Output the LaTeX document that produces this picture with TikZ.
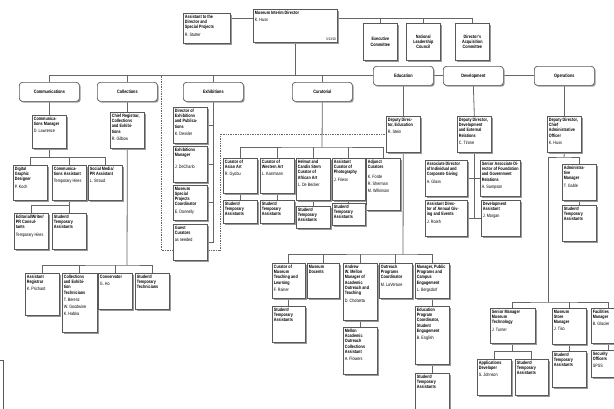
\documentclass[tikz,border=0pt]{standalone}
\usepackage{fontspec}
\setmainfont{Liberation Sans}[FakeStretch=0.8]
\usetikzlibrary{arrows.meta,shadows,backgrounds}

\newcommand{\orgunit}[6]{%
  \node[unit] (#1) at (#2)
    {\parbox[t][\dimexpr#4pt-3pt\relax][t]{\dimexpr#3pt-3pt\relax}%
      {\raggedright\textbf{#5}\par\vspace{2pt}#6}};}

\tikzset{
  boxshadow/.style={drop shadow={shadow xshift=1.3pt,shadow yshift=-1.3pt,fill=black!40,opacity=1}},
  unit/.style={draw=black!65,line width=0.7pt,fill=white,anchor=north west,inner sep=1.5pt,
    font=\fontsize{4.7}{5.3}\selectfont,boxshadow},
  board/.style={draw=black!65,line width=0.7pt,fill=white,anchor=north west,inner sep=1pt,
    minimum width=34pt,minimum height=37pt,align=center,
    font=\fontsize{4.7}{5.3}\selectfont\bfseries,boxshadow},
  division/.style={draw=black!65,line width=0.7pt,fill=white,rounded corners=3pt,
    anchor=north west,minimum width=60pt,minimum height=19pt,inner sep=1pt,
    font=\fontsize{4.8}{5.3}\selectfont\bfseries,boxshadow},
  link/.style={draw=black!60,line width=0.8pt},
  dotlink/.style={draw=black!60,line width=0.7pt,densely dotted}
}

\begin{document}
\begin{tikzpicture}[x=1pt,y=-1pt,>=Latex]
  \useasboundingbox (0,0) rectangle (614,408);
  \clip (0,0) rectangle (614,408);

  % director and committees
  \orgunit{asst}{183,13}{47}{30}{Assistant to the\\Director and\\Special Projects}{R. Stutter}
  \orgunit{dir}{253,9}{84}{33}{Museum Interim Director}{K. Huss}
  \node[anchor=south east,inner sep=1.5pt,font=\fontsize{3.6}{4}\selectfont] (date) at (dir.south east) {5/13/20};
  \node[board] (exec) at (363,23) {Executive\\Committee};
  \node[board] (natl) at (406,23) {National\\Leadership\\Council};
  \node[board] (acq) at (455,23) {Director's\\Acquisition\\Committee};

  % divisions
  \node[division] (comm) at (19,82) {Communications};
  \node[division] (coll) at (97,82) {Collections};
  \node[division] (exh) at (183,82) {Exhibitions};
  \node[division] (cur) at (292,82) {Curatorial};
  \node[division] (edu) at (373,66) {Education};
  \node[division] (dev) at (443,66) {Development};
  \node[division] (ops) at (534,66) {Operations};

  % communications
  \orgunit{commmgr}{32,115}{34}{33}{Communica-\\tions Manager}{D. Lawrence}
  \orgunit{digital}{13,165}{34}{35}{Digital\\Graphic\\Designer}{P. Koch}
  \orgunit{commasst}{52,165}{34}{35}{Communica-\\tions Assistant}{Temporary Hires}
  \orgunit{social}{88,165}{34}{35}{Social Media/\\PR Assistant}{L. Stroud}
  \orgunit{editorial}{14,213}{34}{36}{Editorial/Writer/\\PR Consul-\\tants}{Temporary Hires}
  \orgunit{commasst-st}{52,213}{34}{36}{Student/\\Temporary\\Assistants}{}

  % collections
  \orgunit{chief}{110,112}{34}{36}{Chief Registrar,\\Collections\\and Exhibi-\\tions}{R. Gilbow}
  \orgunit{asstreg}{25,273}{34}{42}{Assistant\\Registrar}{K. Prichard}
  \orgunit{colltech}{62,273}{35}{59}{Collections\\and Exhibi-\\tion\\Technicians}{T. Berenz\\[1.5pt]W. Goodwine\\[1.5pt]K. Habka}
  \orgunit{conserv}{98,273}{34}{36}{Conservator}{G. Ho}
  \orgunit{studtech}{135,273}{34}{36}{Student/\\Temporary\\Technicians}{}

  % exhibitions
  \orgunit{exhdir}{173,107}{34}{36}{Director of\\Exhibitions\\and Publica-\\tions}{K. Dessler}
  \orgunit{exhmgr}{173,146}{34}{36}{Exhibitions\\Manager}{\vspace{5pt}J. DeCharlo}
  \orgunit{special}{173,185}{34}{35}{Museum\\Special\\Projects\\Coordinator}{E. Donnelly}
  \orgunit{guest}{173,224}{34}{36}{Guest\\Curators}{as needed}

  % curatorial
  \orgunit{asian}{223,158}{34}{35}{Curator of\\Asian Art}{R. Gyobu}
  \orgunit{western}{260,158}{34}{35}{Curator of\\Western Art}{L. Kastmann}
  \orgunit{african}{296,158}{34}{42}{Helmut and\\Candis Stern\\Curator of\\African Art}{L. De Becker}
  \orgunit{photo}{332,158}{33}{42}{Assistant\\Curator of\\Photography}{J. Friess}
  \orgunit{adjunct}{366,158}{34}{52}{Adjunct\\Curators}{\vspace{3pt}K. Forde\\[1.5pt]R. Sherman\\[1.5pt]M. Wilkinson}
  \orgunit{asian-st}{223,200}{34}{23}{Student/\\Temporary\\Assistants}{}
  \orgunit{western-st}{260,200}{34}{23}{Student/\\Temporary\\Assistants}{}
  \orgunit{african-st}{296,206}{34}{22}{Student/\\Temporary\\Assistants}{}
  \orgunit{photo-st}{332,203}{33}{22}{Student/\\Temporary\\Assistants}{}

  % education
  \orgunit{eddep}{386,116}{34}{36}{Deputy Direc-\\tor, Education}{R. Stein}
  \orgunit{teach}{272,263}{33}{35}{Curator of\\Museum\\Teaching and\\Learning}{F. Rainer}
  \orgunit{docents}{307,263}{32}{35}{Museum\\Docents}{}
  \orgunit{mellon}{343,263}{34}{57}{Andrew\\W. Mellon\\Manager of\\Academic\\Outreach and\\Teaching}{D. Chobetta}
  \orgunit{outreach}{379,263}{33}{35}{Outreach\\Programs\\Coordinator}{M. LaVerture}
  \orgunit{public}{415,263}{34}{35}{Manager, Public\\Programs and\\Campus\\Engagement}{L. Bergsdorf}
  \orgunit{teach-st}{272,306}{33}{36}{Student/\\Temporary\\Assistants}{}
  \orgunit{mellon-asst}{343,327}{34}{47}{Mellon\\Academic\\Outreach\\Collections\\Assistant}{A. Flowers}
  \orgunit{edprog}{415,306}{34}{58}{Education\\Program\\Coordinator,\\Student\\Engagement}{B. English}
  \orgunit{public-st}{415,373}{34}{42}{Student/\\Temporary\\Assistants}{}

  % development
  \orgunit{devdep}{457,116}{34}{36}{Deputy Director,\\Development\\and External\\Relations}{C. Tirone}
  \orgunit{indiv}{425,160}{42}{36}{Associate Director\\of Individual and\\Corporate Giving}{A. Glass}
  \orgunit{annual}{425,200}{42}{36}{Assistant Direc-\\tor of Annual Giv-\\ing and Events}{J. Roath}
  \orgunit{found}{480,160}{40}{36}{Senior Associate Di-\\rector of Foundation\\and Government\\Relations}{A. Sampson}
  \orgunit{devasst}{481,200}{39}{36}{Development\\Assistant}{J. Morgan}

  % operations
  \orgunit{opsdep}{547,116}{34}{36}{Deputy Director,\\Chief\\Administrative\\Officer}{K. Huss}
  \orgunit{admin}{562,164}{34}{36}{Administra-\\tive\\Manager}{T. Gable}
  \orgunit{admin-st}{562,205}{34}{36}{Student/\\Temporary\\Assistants}{}
  \orgunit{tech}{490,308}{45}{35}{Senior Manager\\Museum\\Technology}{J. Turner}
  \orgunit{store}{552,308}{34}{36}{Museum\\Store\\Manager}{J. Tiso}
  \orgunit{facil}{591,308}{34}{35}{Facilities\\Manager}{B. Glacier}
  \orgunit{apps}{477,359}{34}{36}{Applications\\Developer}{S. Johnson}
  \orgunit{tech-st}{515,359}{33}{36}{Student/\\Temporary\\Assistants}{}
  \orgunit{store-st}{552,351}{34}{36}{Student/\\Temporary\\Assistants}{}
  \orgunit{security}{591,350}{34}{27}{Security\\Officers}{SPSS}

  % cut-off box at the left edge
  \draw[draw=black!65,line width=0.7pt] (-30,360) rectangle (3,420);

  \begin{pgfonlayer}{background}
    \coordinate (cline) at (0,18);
    \draw[link] (asst.east |- cline) -- (dir.west |- cline);
    \draw[link] (dir.east |- cline) -| (acq.north);
    \draw[link] (exec.north) -- (exec.north |- cline);
    \draw[link] (natl.north) -- (natl.north |- cline);
    \draw[link,{Latex[reversed,length=3pt,width=3pt]}-] (dir.south) -- (dir.south |- edu.west);
    \draw[link] (comm.north) |- (edu.west);
    \foreach \n in {coll,exh,cur}
      \draw[link] (\n.north) -- (\n.north |- edu.west);
    \draw[link] (edu.east) -- (dev.west);
    \draw[link] (dev.east) -- (ops.west);

    % communications
    \draw[link] (comm.south) -- (commmgr.north);
    \draw[link] (commmgr.south) -- ++(0,9) coordinate (cmbus) -| (digital.north);
    \draw[link] (cmbus) -| (social.north);
    \draw[link] (commasst.north) -- (commasst.north |- cmbus);
    \draw[link] (commasst.south) -- (commasst-st.north);
    \draw[link] (commasst.south) -- ++(0,5) -| (editorial.north);

    % collections
    \coordinate (clbus) at (127,265);
    \draw[link] (coll.south) -- (chief.north);
    \draw[link] (chief.south) -- (clbus);
    \draw[link] (asstreg.north) |- (clbus) -| (studtech.north);
    \draw[link] (colltech.north) -- (colltech.north |- clbus);
    \draw[link] (conserv.north) -- (conserv.north |- clbus);

    % exhibitions, dotted tie to education
    \draw[link] (exh.south) |- (guest.east);
    \foreach \n in {exhdir,exhmgr,special}
      \draw[link] (\n.east) -- (\n.east -| exh.south);
    \coordinate (dota) at (161,75.5);
    \coordinate (dotb) at (220,250);
    \draw[dotlink] (dota) |- (dotb) |- (eddep.west);

    % curatorial
    \coordinate (crbus) at (322,147);
    \draw[link] (cur.south) -- (crbus);
    \draw[link] (asian.north) |- (crbus) -| (adjunct.north);
    \foreach \n in {western,african,photo}
      \draw[link] (\n.north) -- (\n.north |- crbus);
    \foreach \n in {asian,western,african,photo}
      \draw[link] (\n.south) -- (\n-st.north);

    % education
    \coordinate (edbus) at (403,254);
    \draw[link] (edu.south) -- (eddep.north);
    \draw[link] (eddep.south) -- (edbus);
    \draw[link] (teach.north) |- (edbus) -| (public.north);
    \foreach \n in {docents,mellon,outreach}
      \draw[link] (\n.north) -- (\n.north |- edbus);
    \draw[link] (teach.south) -- (teach-st.north);
    \draw[link] (mellon.south) -- (mellon-asst.north);
    \draw[link] (public.south) -- (edprog.north);
    \draw[link] (edprog.south) -- (public-st.north);

    % development
    \draw[link] (dev.south) -- (devdep.north);
    \draw[link] (devdep.south) -- (devdep.south |- annual.east);
    \draw[link] (indiv.east) -- (found.west);
    \draw[link] (annual.east) -- (devasst.west);

    % operations
    \coordinate (opbus) at (564,157);
    \coordinate (otbus) at (548,302);
    \draw[link] (ops.south) -- (opsdep.north);
    \draw[link] (opsdep.south) -- (opbus);
    \draw[link] (admin.north) |- (opbus) -| (otbus);
    \draw[link] (admin.south) -- (admin-st.north);
    \draw[link] (tech.north) |- (otbus) -| (facil.north);
    \draw[link] (store.north) -- (store.north |- otbus);
    \draw[link] (tech.south) -- ++(0,8) coordinate (tcbus) -| (apps.north);
    \draw[link] (tcbus) -| (tech-st.north);
    \draw[link] (store.south) -- (store-st.north);
    \draw[link] (facil.south) -- (security.north);
  \end{pgfonlayer}
\end{tikzpicture}
\end{document}
